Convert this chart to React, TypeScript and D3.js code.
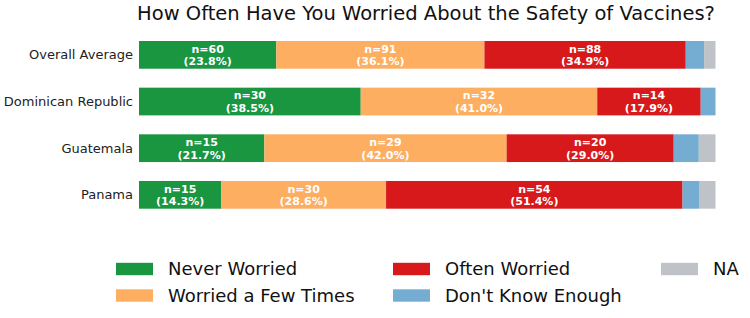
import React from "react";
import * as d3 from "d3";

const categories = ["Overall Average", "Dominican Republic", "Guatemala", "Panama"];
const seriesNames = ["Never Worried", "Worried a Few Times", "Often Worried", "Don't Know Enough", "NA"];
const neverWorried = [60, 30, 15, 15];
const fewTimes = [91, 32, 29, 30];
const oftenWorried = [88, 14, 20, 54];
const dontKnow = [8, 2, 3, 3];
const naValues = [5, 0, 2, 3];
const colors = ["#1a9641", "#fdae61", "#d7191c", "#74add1", "#bfc3c7"];

const W = 750;
const H = 318;
const FONT = "DejaVu Sans, sans-serif";

export default function App() {
  const series = [neverWorried, fewTimes, oftenWorried, dontKnow, naValues];
  const rows = categories.map((c, i) => {
    const vals = series.map((s) => s[i]);
    const total = d3.sum(vals);
    return { c, vals, total };
  });

  const x = d3.scaleLinear().domain([0, 1]).range([139, 715.5]);
  const y = d3.scaleBand().domain(categories).range([41, 208.7]).paddingInner(0.406).paddingOuter(0);

  const legendCols = [116, 393, 661];
  const legendRows = [269, 295.5];
  const legendPos = [
    [0, 0], [0, 1], [1, 0], [1, 1], [2, 0],
  ];

  return (
    <svg width={W} height={H} style={{ position: "absolute", left: 0, top: 0 }} fontFamily={FONT}>
      <rect width={W} height={H} fill="#fff" />
      <text x={426} y={20} textAnchor="middle" fontSize={19.5} fill="#111">
        How Often Have You Worried About the Safety of Vaccines?
      </text>
      {rows.map((r) => {
        let cum = 0;
        const y0 = y(r.c)!;
        const bh = y.bandwidth();
        return (
          <g key={r.c}>
            <text x={133} y={y0 + bh / 2} dy="0.35em" textAnchor="end" fontSize={13} fill="#222">
              {r.c}
            </text>
            {r.vals.map((v, j) => {
              const start = cum / r.total;
              cum += v;
              const end = cum / r.total;
              if (v === 0) return null;
              const x0 = x(start);
              const x1 = x(end);
              const pct = ((v / r.total) * 100).toFixed(1);
              return (
                <g key={j}>
                  <rect x={x0} y={y0} width={x1 - x0} height={bh} fill={colors[j]} />
                  {j < 3 && (
                    <text x={(x0 + x1) / 2} y={y0 + bh / 2} textAnchor="middle" fontSize={11} fontWeight="bold" fill="#fff">
                      <tspan x={(x0 + x1) / 2} dy="-0.2em">{`n=${v}`}</tspan>
                      <tspan x={(x0 + x1) / 2} dy="1.15em">{`(${pct}%)`}</tspan>
                    </text>
                  )}
                </g>
              );
            })}
          </g>
        );
      })}
      {seriesNames.map((s, i) => {
        const [cIdx, rIdx] = legendPos[i];
        const lx = legendCols[cIdx];
        const ly = legendRows[rIdx];
        return (
          <g key={s}>
            <rect x={lx} y={ly - 6.2} width={37} height={12.4} fill={colors[i]} />
            <text x={lx + 52} y={ly} dy="0.35em" fontSize={18} fill="#111">
              {s}
            </text>
          </g>
        );
      })}
    </svg>
  );
}
